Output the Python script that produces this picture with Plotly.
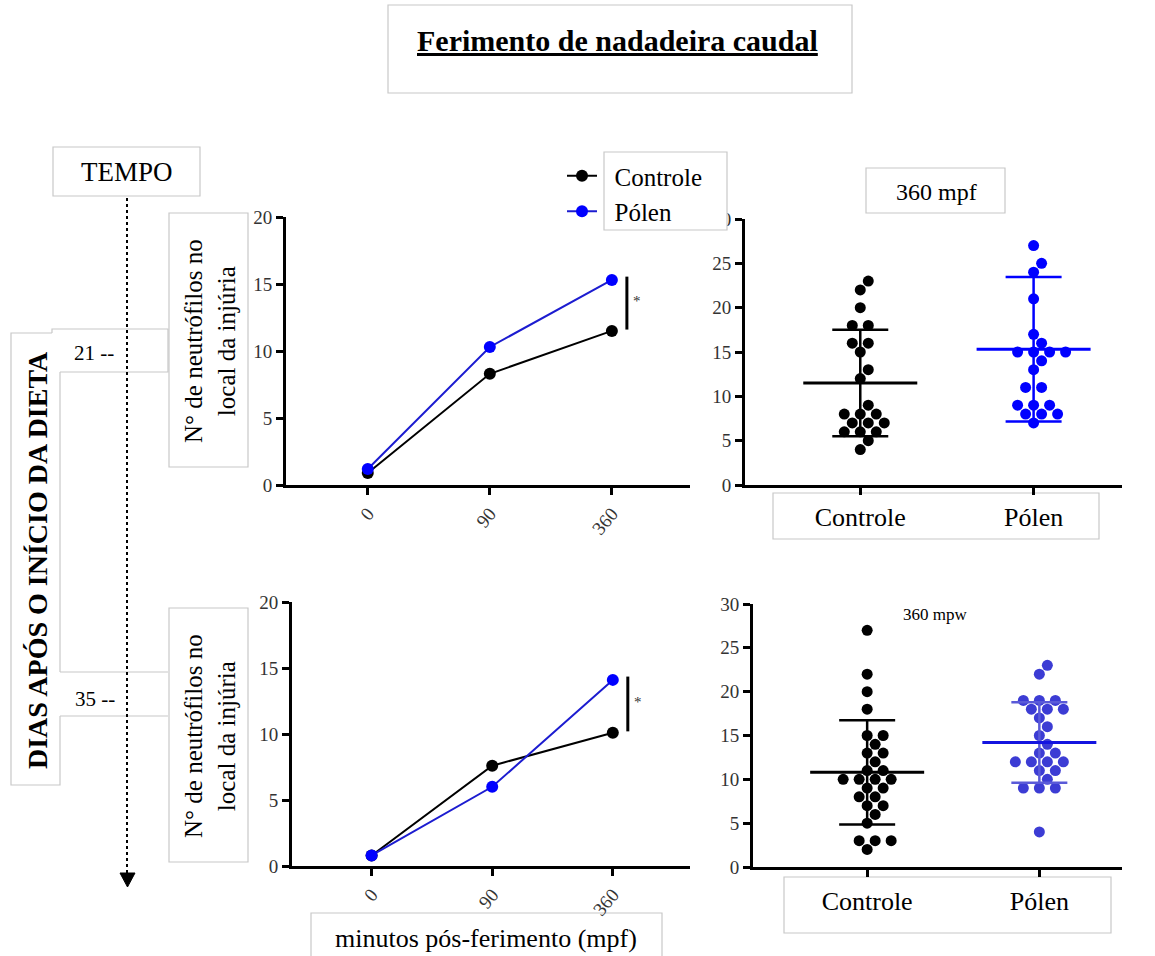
import plotly.graph_objects as go

W, H = 1155, 956
FONT = "Liberation Serif, Times New Roman, serif"

# ---------------- data ----------------
time_labels = ["0", "90", "360"]
d21_ctrl = [0.9, 8.3, 11.5]
d21_pol = [1.2, 10.3, 15.3]
d35_ctrl = [0.8, 7.6, 10.1]
d35_pol = [0.8, 6.0, 14.1]

groups = ["Controle", "Pólen"]
s21_ctrl = [23, 22, 20, 18, 18, 16, 16, 15, 13, 12, 9, 8, 8, 8, 7, 7, 7, 6, 6, 6, 5, 4]
s21_pol = [27, 25, 24, 21, 17, 16, 15, 15, 15, 15, 14, 13, 11, 11, 9, 9, 9, 8, 8, 8, 7]
s21_mean = [11.5, 15.3]
s21_sd = [6.0, 8.15]
s35_ctrl = [27, 22, 20, 18, 15, 15, 14, 13, 13, 12, 11, 11, 10, 10, 10, 10, 9, 9, 8, 8,
            7, 7, 6, 5, 3, 3, 3, 2]
s35_pol = [23, 22, 19, 19, 19, 18, 18, 18, 17, 16, 15, 14, 13, 13, 12, 12, 12, 12, 11, 11,
           10, 9, 9, 9, 4]
s35_mean = [10.8, 14.2]
s35_sd = [5.95, 4.6]

# ---------------- layout helpers ----------------
def px(x):
    return x / W

def py(y):
    return 1 - y / H

# pixel boxes of the four plot areas
P = {
    "tl": dict(x=(286, 690), y=(217, 485), xr=[-0.67, 2.64], yr=[0, 20]),
    "bl": dict(x=(292, 690), y=(602, 866), xr=[-0.66, 2.64], yr=[0, 20]),
    "tr": dict(x=(745, 1122), y=(219, 485), xr=[-0.665, 1.51], yr=[0, 30]),
    "br": dict(x=(753, 1122), y=(604, 867), xr=[-0.663, 1.48], yr=[0, 30]),
}
for k, p in P.items():
    p["ppx"] = (p["x"][1] - p["x"][0]) / (p["xr"][1] - p["xr"][0])
    p["ppy"] = (p["y"][1] - p["y"][0]) / (p["yr"][1] - p["yr"][0])


def swarm(values, ppx, ppy, step=8.0, dmin=11.5):
    """GraphPad-like column scatter offsets (in category units)."""
    placed = []
    offs = [0.0] * len(values)
    for v in sorted(set(values)):
        idx = [i for i, val in enumerate(values) if val == v]
        n = len(idx)
        base = [(j - (n - 1) / 2) * 2 for j in range(n)]
        cand = base
        for k in [0, 1, -1, 2, -2, 3, -3, 4, -4, 5, -5, 6, -6]:
            cand = [(b + k) * step for b in base]
            ok = all((cx - qx) ** 2 + (v * ppy - qy) ** 2 >= dmin ** 2
                     for cx in cand for (qx, qy) in placed)
            if ok:
                break
        for i, cx in zip(idx, cand):
            offs[i] = cx / ppx
            placed.append((cx, v * ppy))
    return offs


fig = go.Figure()

BLACK = "#000000"
BLUE = "#0000ff"
BLUE_LINE = "#1c1cd0"
PAD = "\u2002"   # small gap between legend symbol and its label

# ---------------- line charts ----------------
def line_panel(ctrl, pol, xa, ya, legend):
    xs = list(range(len(time_labels)))
    fig.add_trace(go.Scatter(x=xs, y=ctrl, mode="lines+markers", name=PAD + groups[0],
                             line=dict(color=BLACK, width=2), marker=dict(color=BLACK, size=12),
                             xaxis=xa, yaxis=ya, showlegend=legend, cliponaxis=False))
    fig.add_trace(go.Scatter(x=xs, y=pol, mode="lines+markers", name=PAD + groups[1],
                             line=dict(color=BLUE_LINE, width=2), marker=dict(color=BLUE, size=12),
                             xaxis=xa, yaxis=ya, showlegend=legend, cliponaxis=False))

line_panel(d21_ctrl, d21_pol, "x", "y", True)
line_panel(d35_ctrl, d35_pol, "x2", "y2", False)

# ---------------- scatter (dot) charts ----------------
def dot_panel(ctrl, pol, mean, sd, p, xa, ya, pol_marker, pol_line, pol_err):
    for gi, (vals, mcol, lcol, ecol) in enumerate([(ctrl, BLACK, BLACK, BLACK),
                                                   (pol, pol_marker, pol_line, pol_err)]):
        offs = swarm(vals, p["ppx"], p["ppy"])
        fig.add_trace(go.Scatter(x=[gi + o for o in offs], y=vals, mode="markers",
                                 marker=dict(color=mcol, size=11), xaxis=xa, yaxis=ya,
                                 showlegend=False, cliponaxis=False))
        half = 57 / p["ppx"]
        fig.add_trace(go.Scatter(x=[gi], y=[mean[gi]], mode="markers",
                                 marker=dict(size=1, color="rgba(0,0,0,0)"),
                                 error_y=dict(type="data", array=[sd[gi]], color=ecol,
                                              thickness=2.5, width=28),
                                 xaxis=xa, yaxis=ya, showlegend=False, cliponaxis=False))
        fig.add_trace(go.Scatter(x=[gi - half, gi + half], y=[mean[gi], mean[gi]], mode="lines",
                                 line=dict(color=lcol, width=3), xaxis=xa, yaxis=ya,
                                 showlegend=False, cliponaxis=False))

dot_panel(s21_ctrl, s21_pol, s21_mean, s21_sd, P["tr"], "x3", "y3", BLUE, BLUE, BLUE)
dot_panel(s35_ctrl, s35_pol, s35_mean, s35_sd, P["br"], "x4", "y4",
          "#3c3cd4", "#1414e0", "#5a5ad8")

# ---------------- axes ----------------
def yax(p, dtick):
    return dict(domain=[py(p["y"][1]), py(p["y"][0])], range=p["yr"],
                showline=True, linecolor=BLACK, linewidth=3, ticks="outside", ticklen=7,
                tickwidth=2.5, tickcolor=BLACK, showgrid=False, zeroline=False,
                tickvals=list(range(p["yr"][0], p["yr"][1] + 1, dtick)),
                tickfont=dict(family=FONT, size=19, color="#333333"), fixedrange=True,
                automargin=False)

def xax(p, labels, size, angle, standoff=None):
    d = dict(domain=[px(p["x"][0]), px(p["x"][1])], range=p["xr"], showline=True,
             linecolor=BLACK, linewidth=3, ticks="outside", ticklen=7, tickwidth=2.5,
             tickcolor=BLACK, showgrid=False, zeroline=False,
             tickvals=list(range(len(labels))), ticktext=labels, tickangle=angle,
             tickfont=dict(family=FONT, size=size, color="#333333" if size < 22 else BLACK),
             fixedrange=True, automargin=False)
    if standoff is not None:
        d["ticklabelstandoff"] = standoff
    return d

lay = {}
lay["xaxis"] = xax(P["tl"], time_labels, 19, -50)
lay["yaxis"] = yax(P["tl"], 5)
lay["xaxis2"] = xax(P["bl"], time_labels, 19, -50)
lay["yaxis2"] = yax(P["bl"], 5)
lay["xaxis3"] = xax(P["tr"], groups, 26, 0, 0)
lay["yaxis3"] = yax(P["tr"], 5)
lay["xaxis4"] = xax(P["br"], groups, 26, 0, 2)
lay["yaxis4"] = yax(P["br"], 5)
for s in ["", "2", "3", "4"]:
    lay["xaxis" + s]["anchor"] = "y" + s
    lay["yaxis" + s]["anchor"] = "x" + s

# ---------------- decorations ----------------
GREY = "#c8c8c8"
shapes = []

def rect(x0, y0, x1, y1, fill=None, layer="below"):
    shapes.append(dict(type="rect", xref="paper", yref="paper", x0=px(x0), x1=px(x1),
                       y0=py(y0), y1=py(y1), line=dict(color=GREY, width=1.2),
                       fillcolor=fill if fill else "rgba(0,0,0,0)", layer=layer))

def path(pts_list):
    d = ""
    for pts in pts_list:
        d += "M" + " L".join(f"{px(x):.5f},{py(y):.5f}" for x, y in pts) + " "
    shapes.append(dict(type="path", xref="paper", yref="paper", path=d.strip(),
                       line=dict(color=GREY, width=1.2), layer="below"))

rect(388, 5, 852, 93)                       # title box
rect(53, 147, 200, 196)                     # TEMPO
path([[(52, 333), (11, 333), (11, 785), (60, 785), (60, 716)],
      [(60, 672), (60, 372)]])             # DIAS box
path([[(52, 333), (52, 329), (168, 329), (168, 372), (60, 372)]])   # 21 box
path([[(60, 672), (168, 672)], [(60, 716), (168, 716)]])           # 35 box
rect(169, 213, 248, 467)                    # y-label top
rect(169, 608, 248, 862)                    # y-label bottom
rect(866, 168, 1005, 213)                   # 360 mpf
rect(773, 493, 1099, 539)                   # group labels top
rect(784, 877, 1111, 933)                   # group labels bottom
rect(311, 913, 662, 962)                    # x title
rect(604, 152, 727, 230, fill="white", layer="above")   # legend box

# timeline: dotted line + arrow head
shapes.append(dict(type="line", xref="paper", yref="paper", x0=px(127), x1=px(127),
                   y0=py(198), y1=py(874), line=dict(color=BLACK, width=2, dash="dot")))
shapes.append(dict(type="path", xref="paper", yref="paper",
                   path=f"M{px(120)},{py(873)} L{px(135)},{py(873)} L{px(127.5)},{py(887)} Z",
                   fillcolor=BLACK, line=dict(color=BLACK, width=1)))

# significance bars (data coordinates)
annotations = []
for ctrl, pol, xa, ya, p in [(d21_ctrl, d21_pol, "x", "y", P["tl"]),
                             (d35_ctrl, d35_pol, "x2", "y2", P["bl"])]:
    lo, hi = min(ctrl[-1], pol[-1]), max(ctrl[-1], pol[-1])
    xb = 2 + 15 / p["ppx"]
    shapes.append(dict(type="line", xref=xa, yref=ya, x0=xb, x1=xb, y0=lo + 0.1, y1=hi + 0.25,
                       line=dict(color=BLACK, width=3)))
    annotations.append(dict(xref=xa, yref=ya, x=2 + 25 / p["ppx"], y=(lo + hi) / 2 + 0.3,
                            text="*", showarrow=False, xanchor="center", yanchor="middle",
                            font=dict(family=FONT, size=15, color="#333333")))

def txt(x, y, s, size, angle=0, **kw):
    annotations.append(dict(xref="paper", yref="paper", x=px(x), y=py(y), text=s,
                            showarrow=False, xanchor="center", yanchor="middle",
                            textangle=angle, font=dict(family=FONT, size=size, color=BLACK), **kw))

txt(617, 40, "<b><u>Ferimento de nadadeira caudal</u></b>", 30)
txt(127, 172, "TEMPO", 27)
txt(37, 560, "<b>DIAS APÓS O INÍCIO DA DIETA</b>", 28, -90)
txt(94, 353, "21 --", 21)
txt(95, 699, "35 --", 21)
txt(210, 341, "N° de neutrófilos no<br>local da injúria", 25, -90)
txt(210, 736, "N° de neutrófilos no<br>local da injúria", 25, -90)
txt(936, 192, "360 mpf", 24)
txt(935, 614, "360 mpw", 17)
txt(486, 938, "minutos pós-ferimento (mpf)", 26)

fig.update_layout(
    width=W, height=H, margin=dict(l=0, r=0, t=0, b=0, pad=0, autoexpand=False),
    paper_bgcolor="white", plot_bgcolor="white",
    font=dict(family=FONT, color=BLACK),
    shapes=shapes, annotations=annotations,
    showlegend=True,
    legend=dict(x=px(562), y=py(153), xanchor="left", yanchor="top",
                bgcolor="rgba(0,0,0,0)", font=dict(family=FONT, size=25, color=BLACK),
                itemwidth=30, tracegroupgap=0),
    **lay,
)

fig.write_html("out.html", config={"displayModeBar": False},
               post_script="document.body.style.margin='0';")
